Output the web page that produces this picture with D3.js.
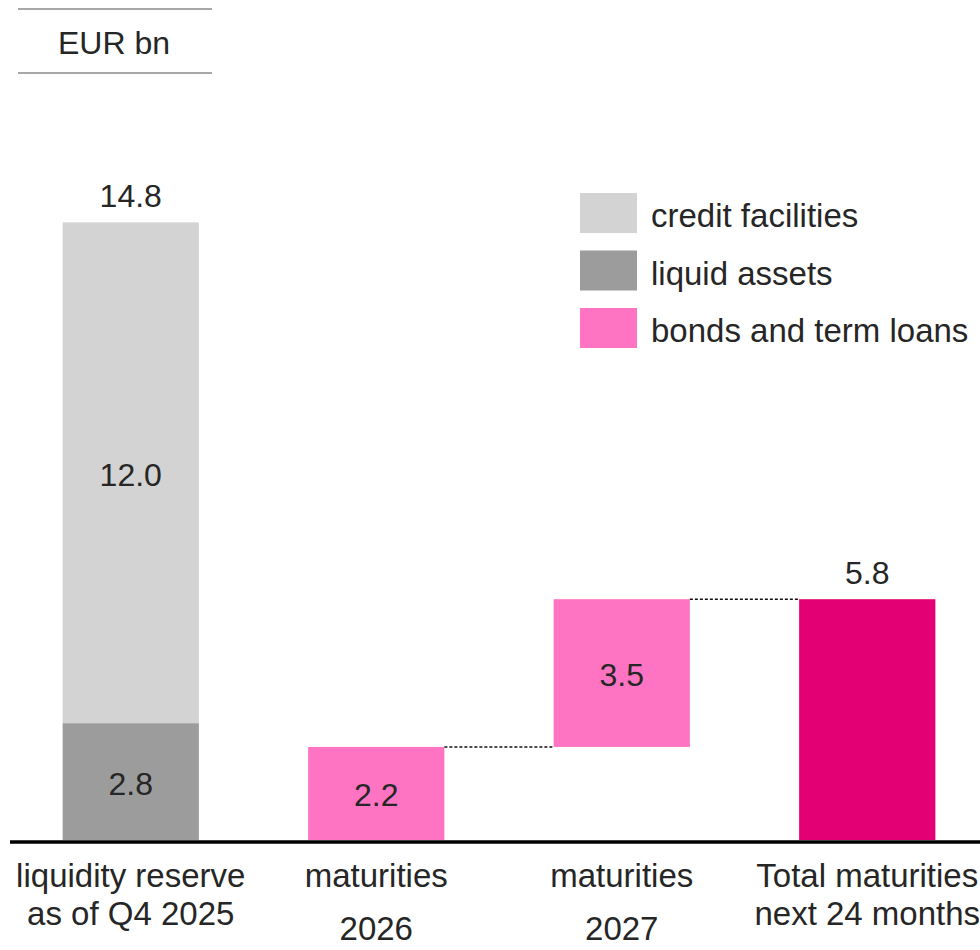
<!DOCTYPE html>
<html>
<head>
<meta charset="utf-8">
<script src="https://cdn.jsdelivr.net/npm/d3@7/dist/d3.min.js"></script>
<style>
  html, body { margin: 0; padding: 0; background: #ffffff; }
  svg { display: block; }
  text { font-family: "Liberation Sans", Arial, sans-serif; fill: #262626; }
</style>
</head>
<body>
<div id="chart"></div>
<script>
// ---- data ----
const unitLabel = "EUR bn";
const categories = ["reserve", "m2026", "m2027", "total"];
const categoryLabels = [
  ["liquidity reserve", "as of Q4 2025"],
  ["maturities", "2026"],
  ["maturities", "2027"],
  ["Total maturities", "next 24 months"]
];
const liquidAssets = 2.8;
const creditFacilities = 12.0;
const maturities = [2.23, 3.54];           // 2026, 2027 (shown rounded to 0.1)
const seriesNames = ["credit facilities", "liquid assets", "bonds and term loans"];
const seriesColors = ["#d3d3d3", "#9c9c9c", "#fe74c2"];
const totalColor = "#e20074";

// ---- layout ----
const W = 980, H = 950;
const fmt = d3.format(".1f");
const svg = d3.select("#chart").append("svg").attr("width", W).attr("height", H);

const x = d3.scaleBand().domain(categories).range([8, 990]).paddingInner(0.445).paddingOuter(0.2225);
const y = d3.scaleLinear().domain([0, 15]).range([840, 214]);

// header
const hdr = svg.append("g");
hdr.selectAll("line").data([9, 73]).join("line")
  .attr("x1", 18).attr("x2", 212).attr("y1", d => d).attr("y2", d => d)
  .attr("stroke", "#a8a8a8").attr("stroke-width", 2);
hdr.append("text").attr("x", 114).attr("y", 54).attr("text-anchor", "middle")
  .attr("font-size", 32).text(unitLabel);

// build segments
const total = d3.sum(maturities);
const segments = [
  { cat: "reserve", y0: 0, y1: liquidAssets, color: seriesColors[1], label: fmt(liquidAssets) },
  { cat: "reserve", y0: liquidAssets, y1: liquidAssets + creditFacilities, color: seriesColors[0], label: fmt(creditFacilities) },
  { cat: "m2026", y0: 0, y1: maturities[0], color: seriesColors[2], label: fmt(maturities[0]) },
  { cat: "m2027", y0: maturities[0], y1: maturities[0] + maturities[1], color: seriesColors[2], label: fmt(maturities[1]) },
  { cat: "total", y0: 0, y1: total, color: totalColor, label: null }
];

const bars = svg.append("g");
bars.selectAll("rect").data(segments).join("rect")
  .attr("x", d => x(d.cat)).attr("width", x.bandwidth())
  .attr("y", d => y(d.y1)).attr("height", d => y(d.y0) - y(d.y1))
  .attr("fill", d => d.color);

bars.selectAll("text.inner").data(segments.filter(d => d.label)).join("text")
  .attr("class", "inner")
  .attr("x", d => x(d.cat) + x.bandwidth() / 2)
  .attr("y", d => (y(d.y0) + y(d.y1)) / 2 + 13)
  .attr("text-anchor", "middle").attr("font-size", 32)
  .text(d => d.label);

// top labels
const tops = [
  { cat: "reserve", v: liquidAssets + creditFacilities },
  { cat: "total", v: total }
];
bars.selectAll("text.top").data(tops).join("text")
  .attr("class", "top")
  .attr("x", d => x(d.cat) + x.bandwidth() / 2)
  .attr("y", d => y(d.v) - 15)
  .attr("text-anchor", "middle").attr("font-size", 32)
  .text(d => fmt(d.v));

// connectors
const connectors = [
  { from: "m2026", to: "m2027", v: maturities[0] },
  { from: "m2027", to: "total", v: maturities[0] + maturities[1] }
];
svg.append("g").selectAll("line").data(connectors).join("line")
  .attr("x1", d => x(d.from) + x.bandwidth()).attr("x2", d => x(d.to))
  .attr("y1", d => y(d.v)).attr("y2", d => y(d.v))
  .attr("stroke", "#111").attr("stroke-width", 1.5).attr("stroke-dasharray", "3,2");

// baseline axis
svg.append("line").attr("x1", 10).attr("x2", 980).attr("y1", y(0) + 2).attr("y2", y(0) + 2)
  .attr("stroke", "#000").attr("stroke-width", 3.5);

// category labels
const lineGaps = [38, 53, 53, 38];
const cl = svg.append("g");
categories.forEach((c, i) => {
  const t = cl.append("text").attr("text-anchor", "middle").attr("font-size", 33)
    .attr("x", x(c) + x.bandwidth() / 2).attr("y", 887);
  categoryLabels[i].forEach((ln, j) => {
    t.append("tspan").attr("x", x(c) + x.bandwidth() / 2).attr("dy", j === 0 ? 0 : lineGaps[i]).text(ln);
  });
});

// legend
const lg = svg.append("g").attr("transform", "translate(580,193)");
const items = lg.selectAll("g").data(seriesNames).join("g")
  .attr("transform", (d, i) => `translate(0,${i * 57.5})`);
items.append("rect").attr("width", 57).attr("height", 40).attr("fill", (d, i) => seriesColors[i]);
items.append("text").attr("x", 71).attr("y", 34).attr("font-size", 33).text(d => d);
</script>
</body>
</html>
